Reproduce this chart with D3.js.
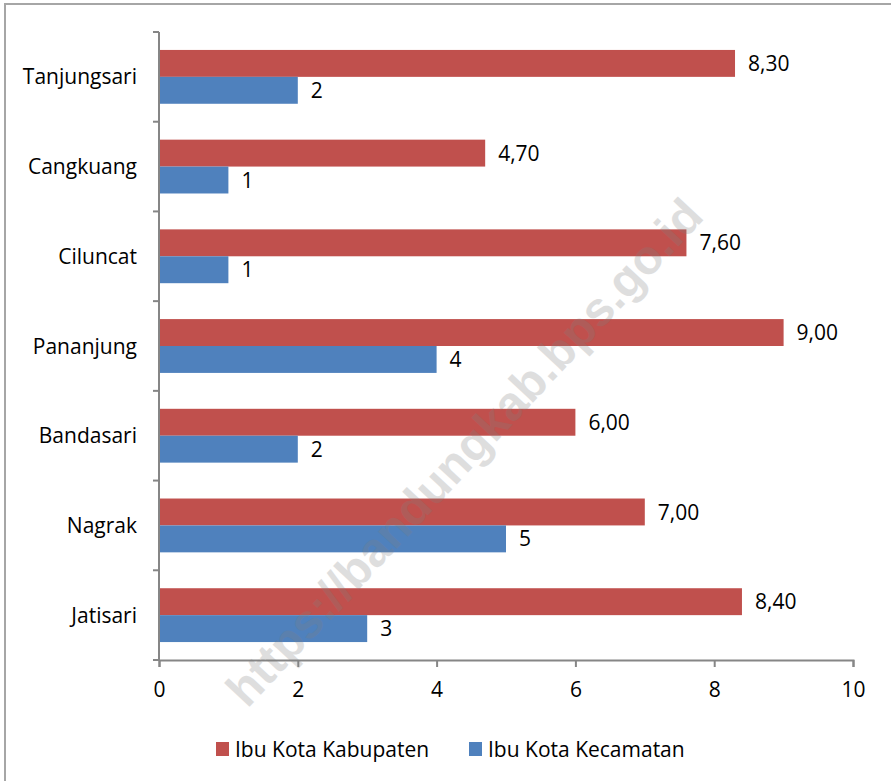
<!DOCTYPE html>
<html>
<head>
<meta charset="utf-8">
<script src="https://cdn.jsdelivr.net/npm/d3@7"></script>
<style>
  body { margin: 0; background: #fff; }
  svg text { font-family: "Open Sans", Lato, sans-serif; fill: #000; }
</style>
</head>
<body>
<svg id="chart" width="891" height="781"></svg>
<script>
// categories top to bottom
let districts = ["Tanjungsari", "Cangkuang", "Ciluncat", "Pananjung", "Bandasari", "Nagrak", "Jatisari"];
let kabupaten = [8.3, 4.7, 7.6, 9.0, 6.0, 7.0, 8.4];
let kecamatan = [2, 1, 1, 4, 2, 5, 3];
let seriesNames = ["Ibu Kota Kabupaten", "Ibu Kota Kecamatan"];
let seriesColors = ["#c0504d", "#4f81bd"];
let xTicks = [0, 2, 4, 6, 8, 10];

let svg = d3.select("#chart");
let plotLeft = 159, plotRight = 853, plotTop = 32, plotBottom = 660;
let fontSize = "21px";

// outer frame
svg.append("rect")
    .attr("x", 5).attr("y", 4)
    .attr("width", 900).attr("height", 800)
    .attr("fill", "none")
    .attr("stroke", "#a6a6a6")
    .attr("stroke-width", 2);

let x = d3.scaleLinear().domain([0, 10]).range([plotLeft, plotRight]);
let y = d3.scaleBand().domain(districts).range([plotTop, plotBottom]).paddingInner(0.4).paddingOuter(0.2);
let sub = d3.scaleBand().domain([0, 1]).range([0, y.bandwidth()]);

let rows = districts.map(function (d, i) {
    return { name: d, vals: [kabupaten[i], kecamatan[i]] };
});

// bars
let g = svg.append("g");
rows.forEach(function (r) {
    r.vals.forEach(function (v, s) {
        g.append("rect")
            .attr("x", x(0))
            .attr("y", y(r.name) + sub(s))
            .attr("width", x(v) - x(0))
            .attr("height", sub.bandwidth())
            .attr("fill", seriesColors[s]);
        g.append("text")
            .attr("x", x(v) + 13)
            .attr("y", y(r.name) + sub(s) + sub.bandwidth() / 2)
            .attr("dy", "0.36em")
            .style("font-size", fontSize)
            .text(s === 0 ? v.toFixed(2).replace(".", ",") : v);
    });
});

// x axis
let xAxis = svg.append("g")
    .attr("transform", "translate(0," + plotBottom + ")")
    .call(d3.axisBottom(x).tickValues(xTicks).tickSize(7).tickPadding(15));
xAxis.selectAll("text").style("font-size", fontSize).style("font-family", "'Open Sans', sans-serif");
xAxis.select(".domain").attr("stroke", "#868686").attr("stroke-width", 2);
xAxis.selectAll(".tick line").attr("stroke", "#868686").attr("stroke-width", 2);

// y axis with ticks between categories
let yAxis = svg.append("g").attr("transform", "translate(" + plotLeft + ",0)");
yAxis.append("line")
    .attr("x1", 0).attr("x2", 0).attr("y1", plotTop).attr("y2", plotBottom)
    .attr("stroke", "#868686").attr("stroke-width", 2);
let step = (plotBottom - plotTop) / districts.length;
d3.range(districts.length + 1).forEach(function (i) {
    yAxis.append("line")
        .attr("x1", -6).attr("x2", 0)
        .attr("y1", plotTop + i * step).attr("y2", plotTop + i * step)
        .attr("stroke", "#868686").attr("stroke-width", 2);
});
districts.forEach(function (d) {
    yAxis.append("text")
        .attr("x", -22)
        .attr("y", y(d) + y.bandwidth() / 2)
        .attr("dy", "0.36em")
        .attr("text-anchor", "end")
        .style("font-size", fontSize)
        .text(d);
});

// legend
let legendX = [216, 469];
seriesNames.forEach(function (n, i) {
    svg.append("rect")
        .attr("x", legendX[i]).attr("y", 742)
        .attr("width", 13).attr("height", 14)
        .attr("fill", seriesColors[i]);
    svg.append("text")
        .attr("x", legendX[i] + 19).attr("y", 749)
        .attr("dy", "0.36em")
        .style("font-size", fontSize)
        .text(n);
});

// watermark, drawn over the bars
svg.append("text")
    .attr("transform", "translate(464,452) rotate(-47)")
    .attr("text-anchor", "middle")
    .attr("dy", "0.35em")
    .style("font-family", "'Liberation Sans', Arial, sans-serif")
    .style("font-weight", "bold")
    .style("font-size", "48px")
    .style("fill", "#808080")
    .style("opacity", 0.25)
    .text("https://bandungkab.bps.go.id");
</script>
</body>
</html>
